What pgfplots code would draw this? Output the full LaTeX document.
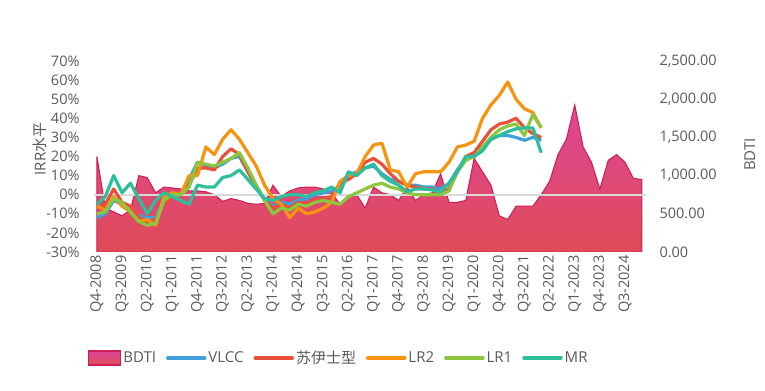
\documentclass[border=0pt]{standalone}
\usepackage{fontspec}
\setmainfont{Open Sans}
\newfontfamily\cjk{Noto Sans CJK SC}
\usepackage{pgfplots}
\usepackage{pgfplotstable}
\pgfplotsset{compat=1.18}
\definecolor{txt}{HTML}{595959}
\definecolor{zline}{HTML}{D9D9D9}
\definecolor{bdtitop}{HTML}{DD4697}
\definecolor{bdtibot}{HTML}{E04B57}
\definecolor{bdtiedge}{HTML}{CC1E55}
\definecolor{cvlcc}{HTML}{41A0DA}
\definecolor{csuez}{HTML}{E9503A}
\definecolor{clrtwo}{HTML}{F7930F}
\definecolor{clrone}{HTML}{8CC63E}
\definecolor{cmr}{HTML}{2DBE9B}

\pgfplotstableread{
x y
0 1250
1 575
2 525
3 475
4 550
5 1000
6 975
7 775
8 850
9 838
10 825
11 800
12 800
13 788
14 750
15 663
16 700
17 675
18 638
19 625
20 638
21 875
22 725
23 800
24 838
25 850
26 850
27 825
28 775
29 625
30 750
31 750
32 575
33 850
34 775
35 750
36 675
37 850
38 675
39 750
40 775
41 1025
42 650
43 650
44 675
45 1225
46 1050
47 875
48 475
49 425
50 600
51 600
52 600
53 750
54 925
55 1275
56 1475
57 1925
58 1375
59 1175
60 825
61 1200
62 1275
63 1175
64 963
65 950
}\bdti

\pgfplotstableread{
x vlcc suez lr2 lr1 mr
0 -12 -7 -6 -10 -5
1 -10 -5 -8 -9 -1
2 -3 3 -1 -2 10
3 -5 -4 -6 -4 1
4 -9 -6 -9 -9 6
5 -11 -12 -14 -14 -2
6 -12 -14 -13 -16 -10
7 -12 -13 -16 -15 -3
8 -3 -5 -1 -3 1
9 -1 -1 1 0 -1
10 0 1 0 0 -3
11 8 5 10 4 -5
12 17 14 10 17 5
13 15 14 25 16 4
14 14 13 21 15 4
15 16 20 29 17 9
16 19 24 34 19 10
17 20 21 29 22 13
18 12 12 22 14 8
19 4 5 15 5 3
20 -3 -3 5 -3 -2
21 -6 -7 -2 -10 -3
22 -4 -5 -5 -7 -1
23 -5 -7 -12 -8 0
24 -3 -4 -7 -5 0
25 -2 -5 -10 -6 -1
26 0 -3 -9 -4 1
27 1 -2 -7 -3 2
28 2 -1 -4 -4 4
29 3 6 7 -5 1
30 10 8 10 -1 12
31 12 11 11 1 10
32 14 17 20 3 14
33 15 19 26 5 16
34 11 16 27 6 10
35 8 11 13 4 7
36 7 7 12 3 5
37 5 5 4 1 1.5
38 5 4 11 0 3
39 4 3 12 0 3
40 4 3 12 0 2.5
41 3 1 12 0 1.5
42 6 3 17 2 6
43 13 12 25 12 12
44 19 20 26 18 20
45 20 22 28 20 20
46 25 28 40 25 23
47 29 34 47 30 29
48 31 37 52 34 31
49 31 38 59 36 33
50 30 40 50 37 34.5
51 28.5 35 45 31 35
52 30 32 43 42 35
53 28.5 30 35 35 22
}\irr

\pgfplotsset{
  base/.style={
    scale only axis, width=552bp, height=191bp,
    xmin=-0.35, xmax=65.5,
    at={(0,0)}, anchor=south west,
    axis line style={draw=none},
    major tick length=0pt,
    tick label style={font=\fontsize{14.5bp}{17bp}\selectfont, text=txt},
    label style={font=\fontsize{15bp}{18bp}\selectfont, text=txt},
  }
}

\begin{document}
\begin{tikzpicture}
\begin{axis}[base,
  ymin=0, ymax=2500,
  axis x line*=bottom, axis y line*=right,
  ytick={0,500,1000,1500,2000,2500},
  yticklabels={0.00,500.00,{1,000.00},{1,500.00},{2,000.00},{2,500.00}},
  yticklabel style={xshift=10bp},
  xtick={0,3,...,63},
  xticklabels={Q4-2008,Q3-2009,Q2-2010,Q1-2011,Q4-2011,Q3-2012,Q2-2013,Q1-2014,Q4-2014,Q3-2015,Q2-2016,Q1-2017,Q4-2017,Q3-2018,Q2-2019,Q1-2020,Q4-2020,Q3-2021,Q2-2022,Q1-2023,Q4-2023,Q3-2024},
  xticklabel style={rotate=90, anchor=east},
  ylabel={BDTI},
  ylabel style={at={(axis description cs:1.188,0.51)}, anchor=center},
]
\addplot[draw=bdtiedge, line width=1bp, top color=bdtitop, bottom color=bdtibot] table[x=x, y=y] {\bdti} \closedcycle;
\end{axis}

\begin{axis}[base,
  ymin=-30, ymax=70,
  axis x line=none, axis y line*=left,
  ytick={-30,-20,...,70},
  yticklabels={-30\%,-20\%,-10\%,0\%,10\%,20\%,30\%,40\%,50\%,60\%,70\%},
  yticklabel style={xshift=-11bp},
  extra y ticks={0}, extra y tick labels={},
  extra y tick style={grid=major, major grid style={draw=zline, line width=2bp}},
  ylabel={IRR{\cjk 水平}},
  ylabel style={at={(axis description cs:-0.098,0.54)}, anchor=center},
  legend image code/.code={\draw[#1, line width=3.5bp, line cap=round] (0bp,0bp) -- (37bp,0bp);},
  legend columns=6,
  legend cell align=left,
  legend style={draw=none, fill=none, inner sep=0pt,
    at={(axis description cs:-0.011,-0.555)}, anchor=west,
    font=\fontsize{15bp}{18bp}\selectfont, text=txt,
    /tikz/every even column/.append style={column sep=8bp}},
]
\addlegendimage{legend image code/.code={\draw[draw=bdtiedge, line width=1.2bp, top color=bdtitop, bottom color=bdtibot] (0bp,-7bp) rectangle (32bp,7bp);}}
\addlegendentry{BDTI}
\addplot[cvlcc, line width=3.2bp, line join=round] table[x=x, y=vlcc] {\irr};
\addlegendentry{VLCC}
\addplot[csuez, line width=3.2bp, line join=round] table[x=x, y=suez] {\irr};
\addlegendentry{{\cjk 苏伊士型}}
\addplot[clrtwo, line width=3.2bp, line join=round] table[x=x, y=lr2] {\irr};
\addlegendentry{LR2}
\addplot[clrone, line width=3.2bp, line join=round] table[x=x, y=lr1] {\irr};
\addlegendentry{LR1}
\addplot[cmr, line width=3.2bp, line join=round] table[x=x, y=mr] {\irr};
\addlegendentry{MR}
\end{axis}
\pgfresetboundingbox
\path[use as bounding box] (-94bp,-139bp) rectangle (671bp,252bp);
\end{tikzpicture}
\end{document}
